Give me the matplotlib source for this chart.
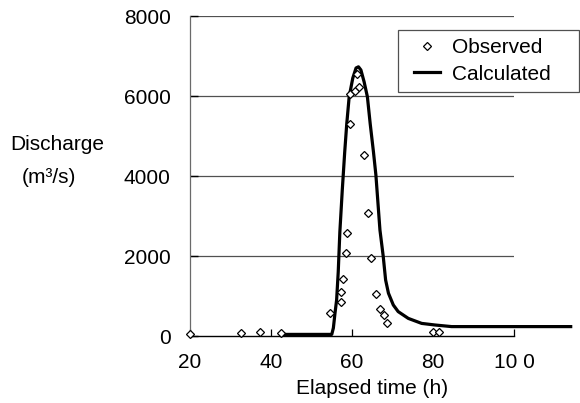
import matplotlib
matplotlib.use("Agg")
import matplotlib.pyplot as plt
from matplotlib.lines import Line2D
from matplotlib.legend_handler import HandlerLine2D

plt.rcParams['font.family'] = ['Liberation Sans', 'DejaVu Sans']

# Observed discharge (elapsed time in h, discharge in m3/s)
obs_time = [20.0, 32.5, 37.4, 42.5, 54.6, 57.2, 57.4, 57.9, 58.4, 58.8,
            59.6, 59.6, 60.7, 61.2, 61.8, 63.0, 64.0, 64.7, 65.9, 66.9,
            67.8, 68.7, 79.9, 81.5]
obs_q = [40, 70, 90, 80, 580, 850, 1090, 1420, 2070, 2570,
         5300, 6050, 6130, 6550, 6230, 4520, 3080, 1960, 1040, 670,
         535, 335, 90, 90]

# Calculated hydrograph
calc_time = [42.6, 55.0, 55.4, 55.8, 56.2, 56.6, 57.0, 57.6, 58.2, 58.7,
             59.3, 60.2, 61.0, 61.6, 62.2, 63.0, 63.8, 64.5, 65.3, 65.9,
             66.9, 67.7, 68.3, 69.0, 70.2, 71.4, 73.9, 77.2, 80.5, 84.6,
             114.0]
calc_q = [40, 40, 200, 570, 900, 1600, 2600, 3650, 4600, 5300,
          5980, 6450, 6700, 6730, 6650, 6350, 5980, 5300, 4600, 4025,
          2650, 2000, 1400, 1070, 775, 610, 440, 315, 275, 235,
          235]

x_ticks = [20, 40, 60, 80, 100]
x_tick_labels = ["20", "40", "60", "80", "10 0"]
y_ticks = [0, 2000, 4000, 6000, 8000]
y_tick_labels = ["0", "2000", "4000", "6000", "8000"]

W, H = 580, 403
fig = plt.figure(figsize=(W / 100, H / 100), dpi=100)
ax = fig.add_axes([190 / W, 1 - 336 / H, 324 / W, 320 / H])

ax.set_xlim(20, 100)
ax.set_ylim(0, 8000)

for yv in y_ticks[1:]:
    ax.axhline(yv, color='#505050', lw=0.9, zorder=1)

ax.plot(calc_time, calc_q, color='black', lw=2.3, zorder=3,
        clip_on=False, label='Calculated', solid_joinstyle='round')
ax.plot(obs_time, obs_q, linestyle='none', marker='D', ms=4.3,
        mfc='white', mec='black', mew=0.9, zorder=4, clip_on=False,
        label='Observed')

for side in ('top', 'right'):
    ax.spines[side].set_visible(False)
ax.spines['left'].set_color('#6a6a6a')
ax.spines['left'].set_linewidth(0.9)
ax.spines['bottom'].set_color('black')
ax.spines['bottom'].set_linewidth(1.0)

ax.set_xticks(x_ticks)
ax.set_xticklabels(x_tick_labels)
ax.set_yticks(y_ticks)
ax.set_yticklabels(y_tick_labels)
ax.tick_params(axis='x', direction='in', length=5, width=0.9,
               labelsize=15, pad=12, colors='black')
ax.tick_params(axis='y', direction='in', length=6, width=1.0,
               labelsize=15, pad=14, colors='black')

ax.set_xlabel('Elapsed time (h)', fontsize=15)
ax.xaxis.set_label_coords((372 - 190) / 324, (336 - 388) / 320)
ax.xaxis.label.set_va('center')

fig.text(57 / W, 1 - 145 / H, 'Discharge', fontsize=15,
         ha='center', va='center')
fig.text(49 / W, 1 - 178 / H, '(m³/s)', fontsize=15,
         ha='center', va='center')

handles, labels = ax.get_legend_handles_labels()
leg = ax.legend(handles[::-1], labels[::-1], loc='upper left',
                bbox_to_anchor=(398 / W, 1 - 88 / H, 181 / W, 58 / H),
                bbox_transform=fig.transFigure, borderaxespad=0,
                mode='expand', fontsize=15, frameon=True, fancybox=False,
                edgecolor='#505050', framealpha=1, borderpad=0.4,
                handlelength=1.62, handletextpad=0.58, labelspacing=0.35,
                handler_map={Line2D: HandlerLine2D(xpad=0.37)})
leg.get_frame().set_linewidth(0.9)

fig.savefig('out.png', dpi=100)
